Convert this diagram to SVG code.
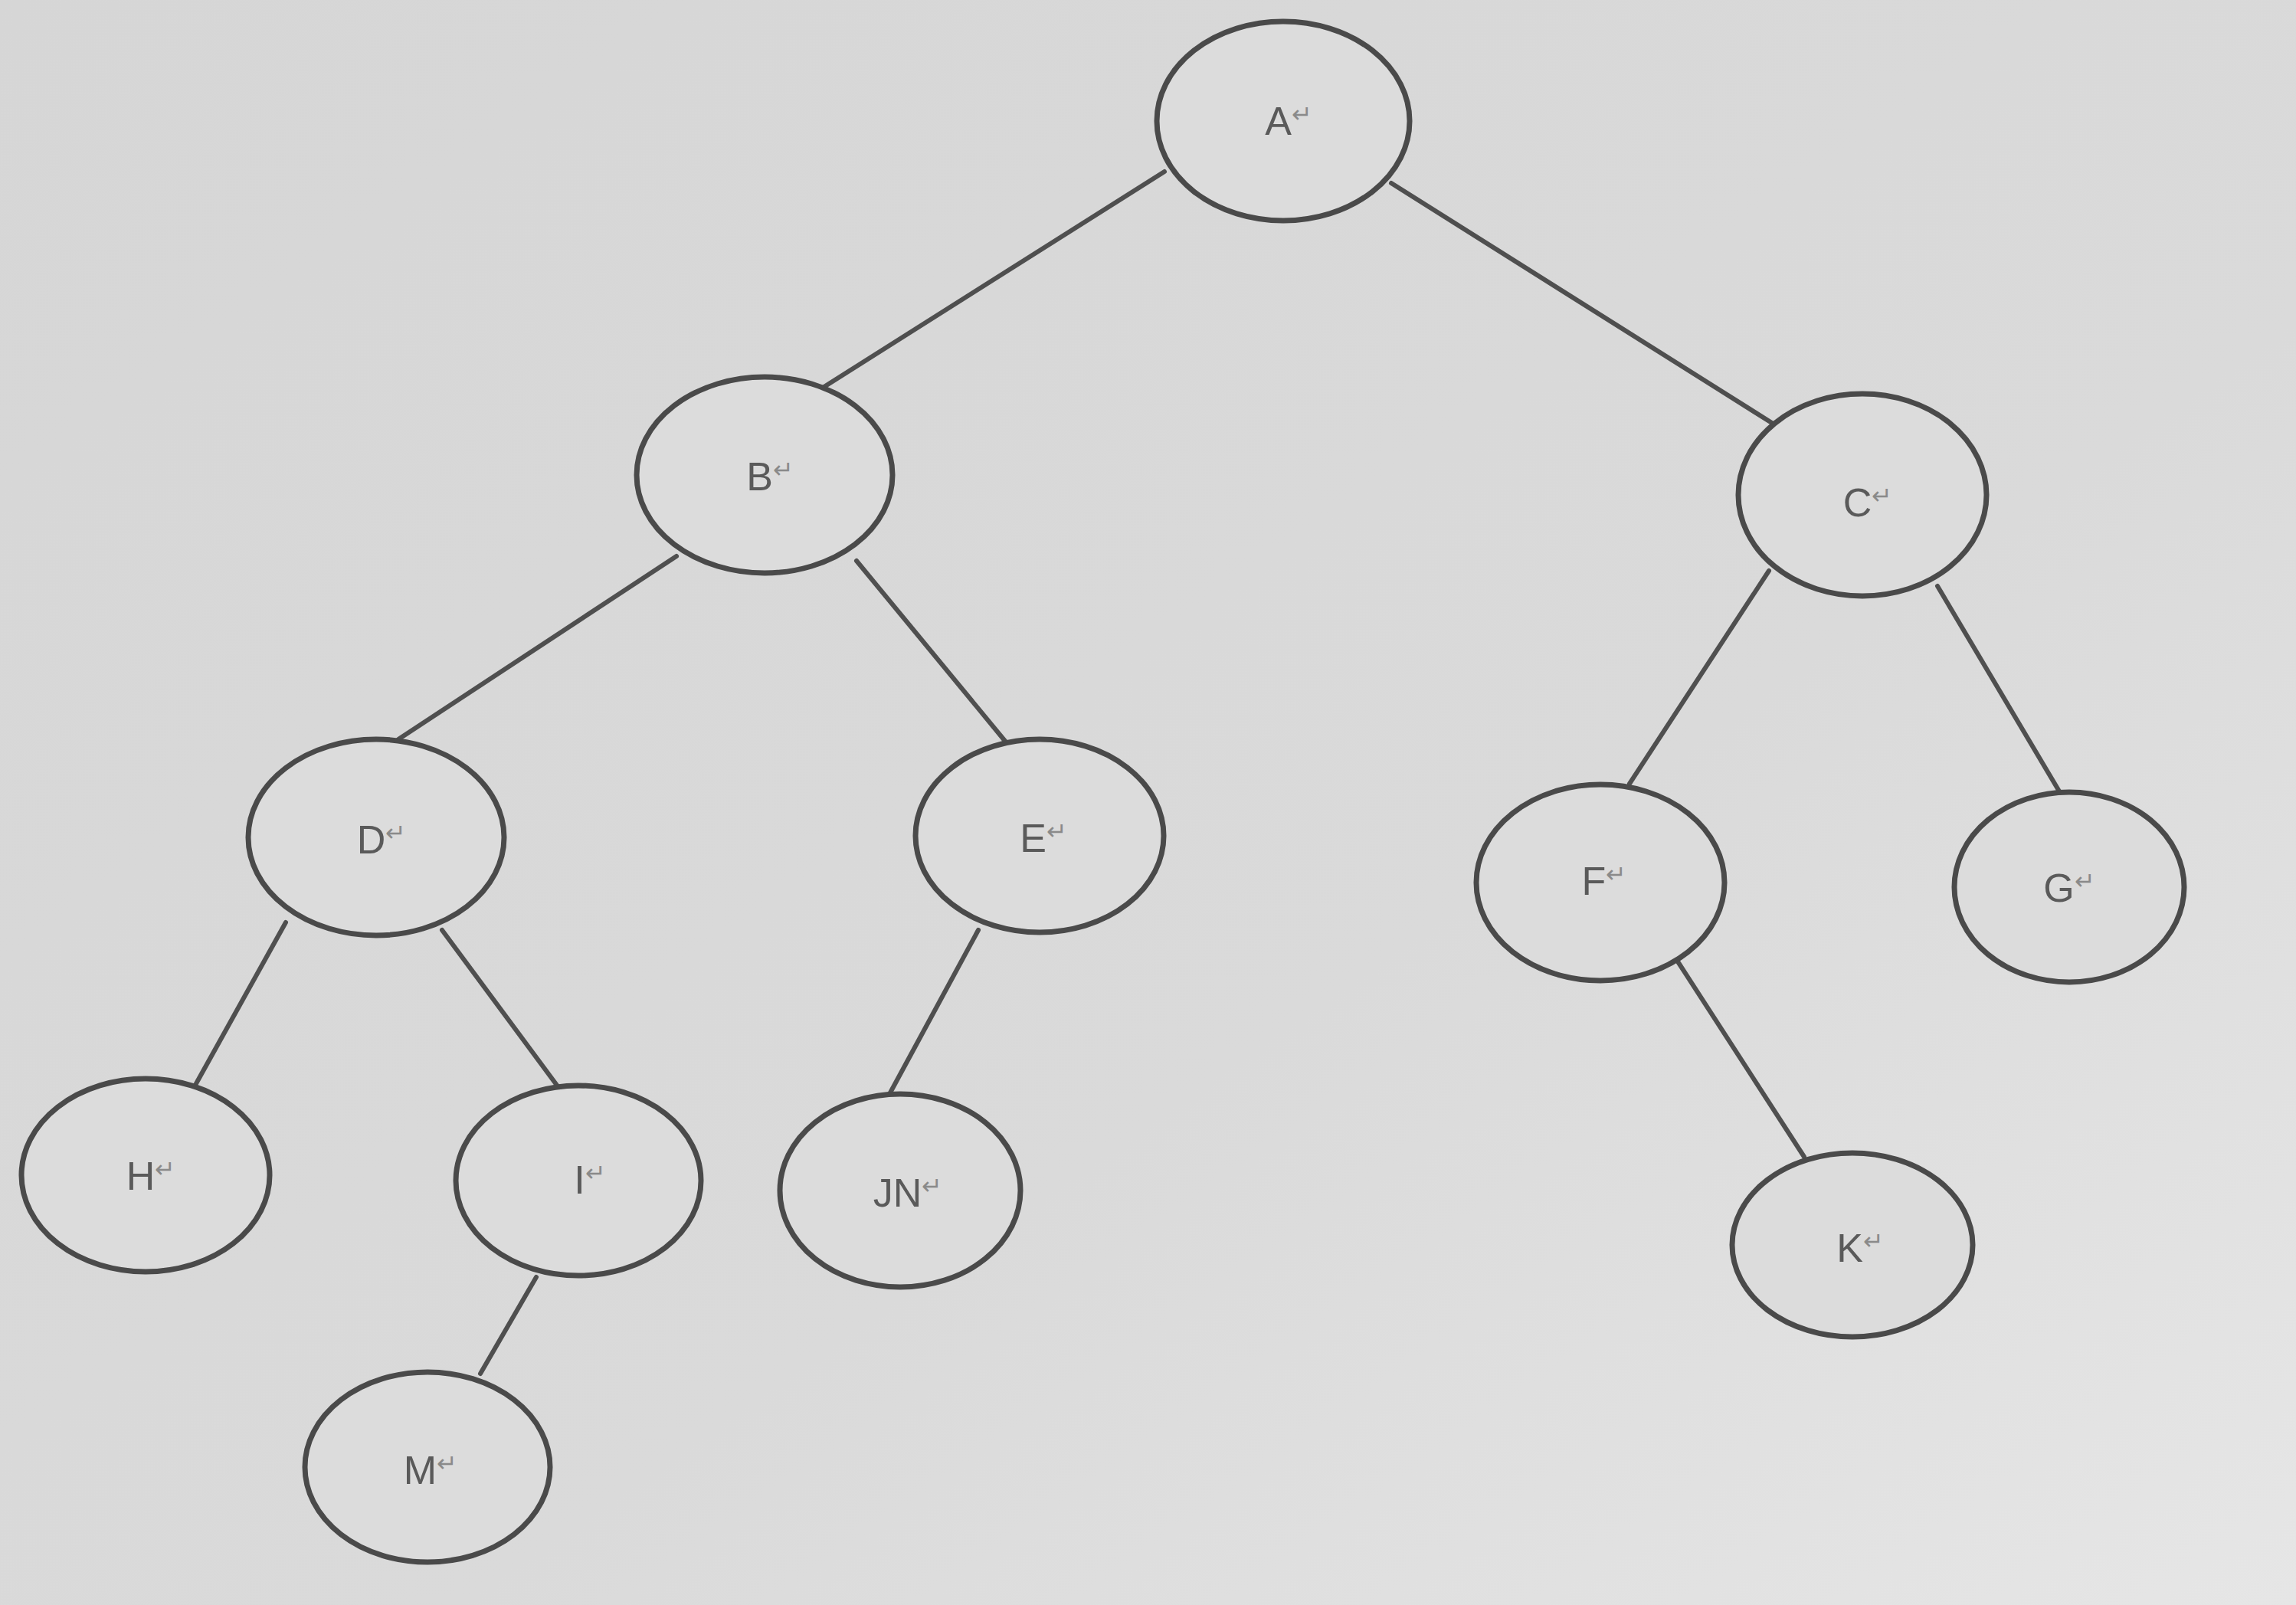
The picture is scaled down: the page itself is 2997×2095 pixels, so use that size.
<svg xmlns="http://www.w3.org/2000/svg" width="2997" height="2095" viewBox="0 0 2997 2095">
<defs>
<style>
.n ellipse{fill:#dcdcdc;stroke:#4a4a4a;stroke-width:7}
.n text{font-family:"Liberation Sans",Arial,sans-serif;font-size:52px;fill:#5a5a5a;text-anchor:middle}
.n tspan{font-size:32px;fill:#8a8a8a}
.e line{stroke:#4f4f4f;stroke-width:6;stroke-linecap:round}
</style>
<linearGradient id="bg" x1="0" y1="0" x2="1" y2="1">
<stop offset="0" stop-color="#d6d6d6"/>
<stop offset="0.6" stop-color="#dadada"/>
<stop offset="1" stop-color="#e6e6e6"/>
</linearGradient>
</defs>
<rect width="2997" height="2095" fill="url(#bg)"/>
<g id="connectors" class="e">
<line x1="1520" y1="224" x2="1074" y2="506"/>
<line x1="1816" y1="239" x2="2316" y2="554"/>
<line x1="883" y1="726" x2="520" y2="965"/>
<line x1="1118" y1="732" x2="1315" y2="971"/>
<line x1="2309" y1="745" x2="2127" y2="1023"/>
<line x1="2529" y1="765" x2="2691" y2="1038"/>
<line x1="373" y1="1204" x2="254" y2="1418"/>
<line x1="577" y1="1214" x2="728" y2="1418"/>
<line x1="1277" y1="1214" x2="1160" y2="1430"/>
<line x1="2188" y1="1252" x2="2355" y2="1510"/>
<line x1="700" y1="1667" x2="627" y2="1793"/>
</g>
<g id="node-A" class="n"><ellipse cx="1675" cy="158" rx="165" ry="130"/><text x="1682" y="176">A<tspan dy="-16">↵</tspan></text></g>
<g id="node-B" class="n"><ellipse cx="998" cy="620" rx="167" ry="128"/><text x="1005" y="640">B<tspan dy="-16">↵</tspan></text></g>
<g id="node-C" class="n"><ellipse cx="2431" cy="646" rx="162" ry="132"/><text x="2438" y="674">C<tspan dy="-16">↵</tspan></text></g>
<g id="node-D" class="n"><ellipse cx="491" cy="1093" rx="167" ry="128"/><text x="498" y="1114">D<tspan dy="-16">↵</tspan></text></g>
<g id="node-E" class="n"><ellipse cx="1357" cy="1091" rx="162" ry="126"/><text x="1362" y="1112">E<tspan dy="-16">↵</tspan></text></g>
<g id="node-F" class="n"><ellipse cx="2089" cy="1152" rx="162" ry="128"/><text x="2094" y="1168">F<tspan dy="-16">↵</tspan></text></g>
<g id="node-G" class="n"><ellipse cx="2701" cy="1158" rx="150" ry="124"/><text x="2701" y="1177">G<tspan dy="-16">↵</tspan></text></g>
<g id="node-H" class="n"><ellipse cx="190" cy="1534" rx="162" ry="126"/><text x="197" y="1553">H<tspan dy="-16">↵</tspan></text></g>
<g id="node-I" class="n"><ellipse cx="755" cy="1541" rx="160" ry="124"/><text x="770" y="1558">I<tspan dy="-16">↵</tspan></text></g>
<g id="node-JN" class="n"><ellipse cx="1175" cy="1554" rx="157" ry="126"/><text x="1185" y="1575">JN<tspan dy="-16">↵</tspan></text></g>
<g id="node-K" class="n"><ellipse cx="2418" cy="1625" rx="157" ry="120"/><text x="2428" y="1647">K<tspan dy="-16">↵</tspan></text></g>
<g id="node-M" class="n"><ellipse cx="558" cy="1915" rx="160" ry="124"/><text x="562" y="1937">M<tspan dy="-16">↵</tspan></text></g>
</svg>
